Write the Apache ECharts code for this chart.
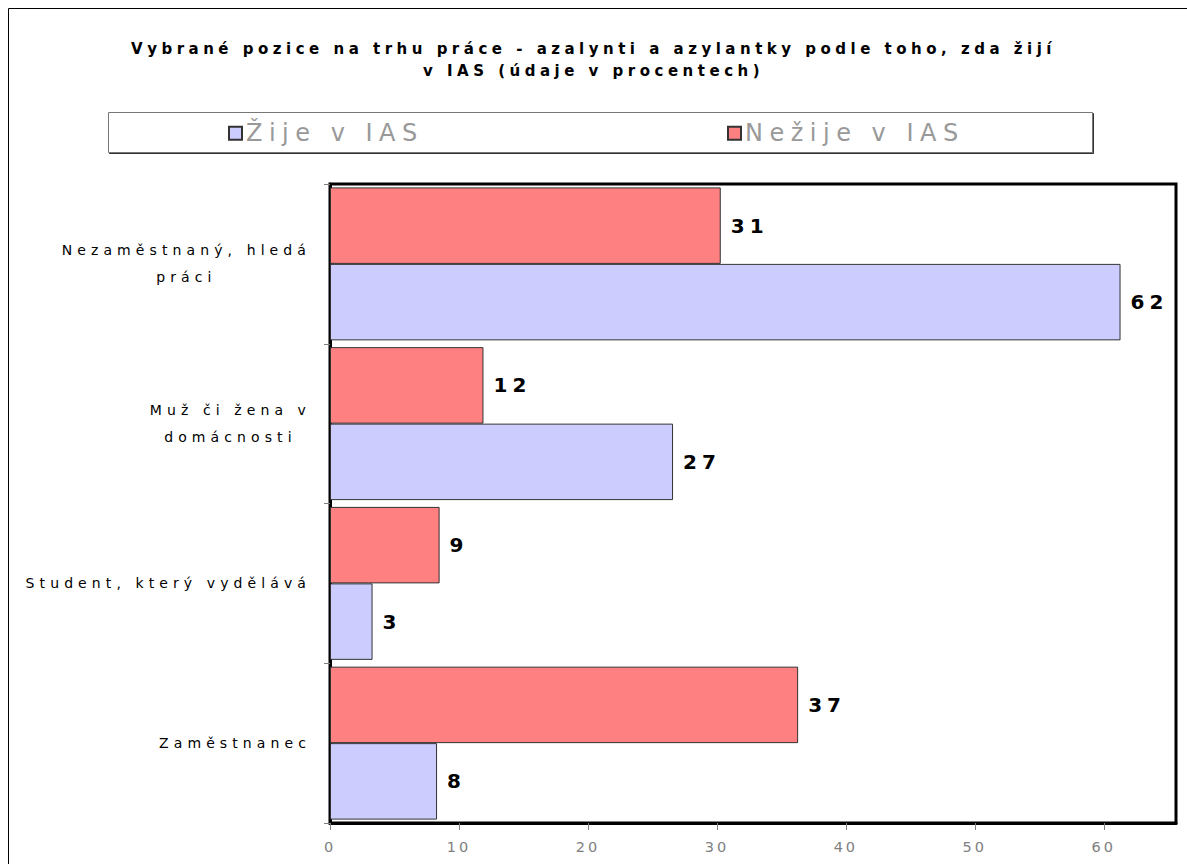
<!DOCTYPE html>
<html><head><meta charset="utf-8">
<script src="https://cdn.jsdelivr.net/npm/echarts@6/dist/echarts.min.js"></script>
<style>html,body{margin:0;padding:0;background:#fff}#c{width:1187px;height:864px}</style>
</head><body><div id="c"></div>
<script>
const categories = ['Nezaměstnaný, hledá\npráci', 'Muž či žena v\ndomácnosti', 'Student, který vydělává', 'Zaměstnanec'];
const seriesNames = ['Žije v IAS', 'Nežije v IAS'];
const zijeValues = [61.3, 26.6, 3.3, 8.3];
const nezijeValues = [30.3, 11.9, 8.5, 36.3];
const zijeLabels = ['62', '27', '3', '8'];
const nezijeLabels = ['31', '12', '9', '37'];
const xTicks = [0, 10, 20, 30, 40, 50, 60];
const titleText = 'Vybrané pozice na trhu práce - azalynti a azylantky podle toho, zda žijí\nv IAS (údaje v procentech)';

// letter spacing (px) keyed by font size
const SPACING = {'15px': 4.5, '24px': 6.5, '14px': 5.1, '14.5px': 3, '20px': 5};
function spacingOf(font) {
  const m = /(\d+(?:\.\d+)?)px/.exec(font || '');
  return m ? (SPACING[m[1] + 'px'] || 0) : 0;
}
const mctx = document.createElement('canvas').getContext('2d');
echarts.setPlatformAPI({
  measureText(text, font) {
    mctx.font = font || '12px sans-serif';
    const w = mctx.measureText(text).width;
    return { width: w + spacingOf(font) * Array.from(text).length };
  }
});

const FONT = 'DejaVu Sans';
const chart = echarts.init(document.getElementById('c'), null, { renderer: 'svg' });
function applySpacing() {
  document.querySelectorAll('#c svg text').forEach(t => {
    const s = SPACING[getComputedStyle(t).fontSize];
    if (s != null) t.style.letterSpacing = s + 'px';
  });
}
chart.on('finished', applySpacing);

const labelStyle = { show: true, position: 'right', distance: 10, fontFamily: FONT, fontWeight: 'bold', fontSize: 20, color: '#000' };

chart.setOption({
  animation: false,
  backgroundColor: '#fff',
  title: {
    text: titleText, left: 'center', top: 33,
    textStyle: { fontFamily: FONT, fontWeight: 'bold', fontSize: 15, color: '#000', lineHeight: 22 }
  },
  graphic: [
    { type: 'rect', z: -10, shape: { x: 8.5, y: 8.5, width: 1200, height: 900 }, style: { fill: '#fff', stroke: '#000', lineWidth: 1 } },
    { type: 'rect', z: -5, shape: { x: 108.5, y: 112.5, width: 984, height: 40 }, style: { fill: '#fff', stroke: '#777', lineWidth: 1, shadowColor: '#333', shadowOffsetX: 1, shadowOffsetY: 1 } }
  ],
  legend: [
    { data: [seriesNames[0]], left: 228, top: 118, padding: 0, itemWidth: 13, itemHeight: 13, icon: 'rect',
      textStyle: { fontFamily: FONT, fontSize: 24, color: '#999', padding: [0, 0, 0, -1] } },
    { data: [seriesNames[1]], left: 727, top: 118, padding: 0, itemWidth: 13, itemHeight: 13, icon: 'rect',
      textStyle: { fontFamily: FONT, fontSize: 24, color: '#999', padding: [0, 0, 0, -1] } }
  ],
  grid: { left: 330, right: 11, top: 184, bottom: 41, containLabel: false, outerBoundsMode: 'none',
    show: true, borderColor: '#000', borderWidth: 3, backgroundColor: 'transparent' },
  xAxis: {
    type: 'value', min: 0, max: 65.6, interval: 10,
    axisLine: { show: true, lineStyle: { color: '#000', width: 3 } },
    axisTick: { show: true, length: 7, customValues: xTicks, lineStyle: { color: '#808080' } },
    axisLabel: { customValues: xTicks, margin: 15, fontFamily: FONT, fontSize: 14.5, color: '#808080' },
    splitLine: { show: false }
  },
  yAxis: {
    type: 'category', data: categories, inverse: true,
    axisLine: { show: true, lineStyle: { color: '#000', width: 3 } },
    axisTick: { show: true, length: 6, lineStyle: { color: '#808080' } },
    axisLabel: {
      margin: 19, fontFamily: FONT, fontSize: 14, color: '#000', lineHeight: 27,
      formatter: v => v.indexOf('\n') >= 0 ? v.split('\n').map(l => '{c|' + l + '}').join('\n') : v,
      rich: { c: { align: 'center', fontFamily: FONT, fontSize: 14, color: '#000', lineHeight: 27 } }
    },
    splitLine: { show: false }
  },
  series: [
    { name: seriesNames[1], type: 'bar', data: nezijeValues, barGap: '0%', barCategoryGap: '4.25%',
      itemStyle: { color: '#FF8080', borderColor: '#333', borderWidth: 1 },
      label: Object.assign({ formatter: p => nezijeLabels[p.dataIndex] }, labelStyle) },
    { name: seriesNames[0], type: 'bar', data: zijeValues, barGap: '0%', barCategoryGap: '4.25%',
      itemStyle: { color: '#CCCCFF', borderColor: '#333', borderWidth: 1 },
      label: Object.assign({ formatter: p => zijeLabels[p.dataIndex] }, labelStyle) }
  ]
});
applySpacing();
</script>
</body></html>
